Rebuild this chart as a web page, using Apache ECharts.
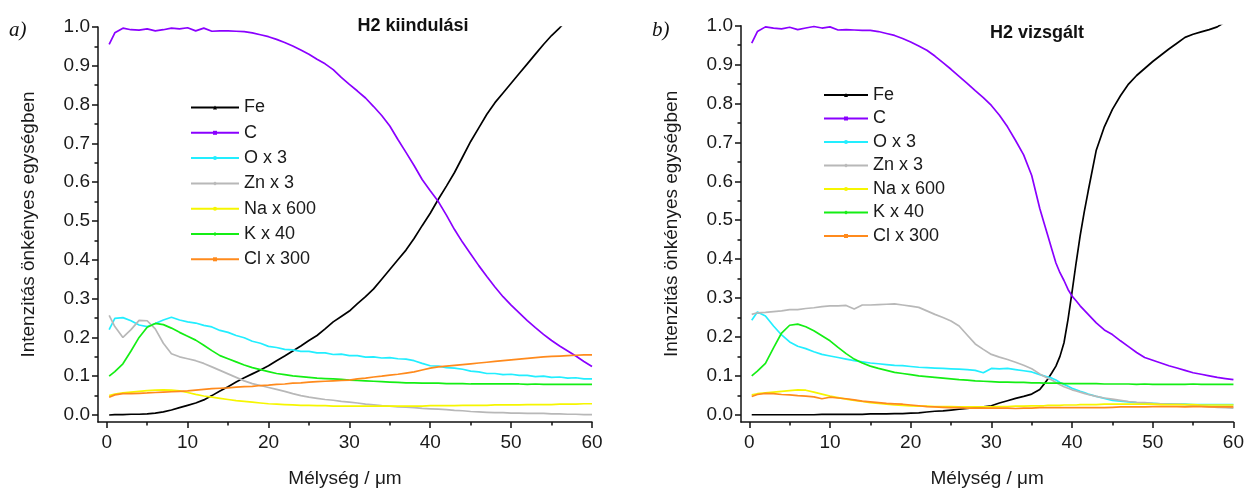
<!DOCTYPE html>
<html>
<head>
<meta charset="utf-8">
<script src="https://cdn.jsdelivr.net/npm/echarts@6/dist/echarts.min.js"></script>
<style>
html,body{margin:0;padding:0;background:#fff;}
#chart{width:1247px;height:493px;}
</style>
</head>
<body>
<div id="chart"></div>
<script>
// ---------- DATA ----------
var seriesNames = ['Fe', 'C', 'O x 3', 'Zn x 3', 'Na x 600', 'K x 40', 'Cl x 300'];
var xMajorTicks = [0, 10, 20, 30, 40, 50, 60];
var xMinorTicks = [5, 15, 25, 35, 45, 55];
var yMajorTicks = [0, 0.1, 0.2, 0.3, 0.4, 0.5, 0.6, 0.7, 0.8, 0.9, 1.0];
var yMinorTicks = [0.05, 0.15, 0.25, 0.35, 0.45, 0.55, 0.65, 0.75, 0.85, 0.95];

// panel a) H2 kiindulási
var depthA = [0.3, 1, 2, 3, 4, 5, 6, 7, 8, 9, 10,
  11, 12, 13, 14, 15, 16, 17, 18, 19, 20,
  21, 22, 23, 24, 25, 26, 27, 28, 29, 30,
  31, 32, 33, 34, 35, 36, 37, 38, 39, 40,
  41, 42, 43, 44, 45, 46, 47, 48, 49, 50,
  51, 52, 53, 54, 55, 56, 57, 58, 59, 60];
var feA = [0, 0.001, 0.001, 0.002, 0.002, 0.003, 0.005, 0.008, 0.013, 0.019, 0.025,
  0.031, 0.039, 0.05, 0.062, 0.073, 0.085, 0.096, 0.106, 0.116, 0.127,
  0.14, 0.152, 0.165, 0.178, 0.192, 0.205, 0.222, 0.24, 0.254, 0.268,
  0.287, 0.305, 0.325, 0.35, 0.375, 0.4, 0.425, 0.455, 0.488, 0.52,
  0.556, 0.59, 0.625, 0.665, 0.705, 0.74, 0.775, 0.805, 0.83, 0.855,
  0.88, 0.905, 0.93, 0.955, 0.978, 0.998, 1.02, null, null, null];
var cA = [0.955, 0.985, 0.997, 0.993, 0.992, 0.995, 0.99, 0.993, 0.997, 0.995, 0.998,
  0.99, 0.997, 0.989, 0.99, 0.99, 0.989, 0.988, 0.985, 0.98, 0.975,
  0.968, 0.96, 0.951, 0.941, 0.93, 0.917, 0.905, 0.89, 0.87, 0.852,
  0.835, 0.817, 0.795, 0.772, 0.745, 0.71, 0.677, 0.643, 0.607, 0.578,
  0.55, 0.515, 0.478, 0.445, 0.415, 0.385, 0.357, 0.33, 0.305, 0.283,
  0.263, 0.243, 0.225, 0.208, 0.192, 0.178, 0.165, 0.152, 0.138, 0.125];
var oA = [0.22, 0.249, 0.251, 0.243, 0.232, 0.228, 0.236, 0.245, 0.252, 0.245, 0.24,
  0.237, 0.231, 0.227, 0.218, 0.213, 0.205, 0.199, 0.19, 0.185, 0.177,
  0.174, 0.169, 0.168, 0.164, 0.164, 0.16, 0.16, 0.156, 0.157, 0.153,
  0.153, 0.149, 0.15, 0.147, 0.148, 0.145, 0.144, 0.14, 0.133, 0.127,
  0.126, 0.122, 0.121, 0.118, 0.113, 0.111, 0.107, 0.107, 0.104, 0.105,
  0.102, 0.102, 0.099, 0.1, 0.097, 0.098, 0.095, 0.096, 0.093, 0.093];
var znA = [0.257, 0.228, 0.2, 0.22, 0.244, 0.243, 0.222, 0.185, 0.158, 0.15, 0.145,
  0.14, 0.133, 0.124, 0.115, 0.106, 0.097, 0.088, 0.081, 0.076, 0.071,
  0.066, 0.061, 0.055, 0.05, 0.046, 0.043, 0.04, 0.038, 0.035, 0.033,
  0.031, 0.028, 0.026, 0.024, 0.023, 0.021, 0.02, 0.019, 0.017, 0.016,
  0.015, 0.014, 0.012, 0.011, 0.009, 0.008, 0.007, 0.006, 0.006, 0.005,
  0.005, 0.004, 0.004, 0.004, 0.003, 0.003, 0.002, 0.002, 0.001, 0.001];
var naA = [0.05, 0.054, 0.057, 0.059, 0.061, 0.063, 0.064, 0.065, 0.064, 0.062, 0.058,
  0.053, 0.049, 0.046, 0.043, 0.04, 0.037, 0.035, 0.033, 0.031, 0.029,
  0.028, 0.027, 0.026, 0.025, 0.025, 0.024, 0.024, 0.023, 0.023, 0.023,
  0.023, 0.023, 0.023, 0.023, 0.023, 0.023, 0.023, 0.023, 0.023, 0.024,
  0.024, 0.024, 0.024, 0.025, 0.025, 0.025, 0.025, 0.026, 0.026, 0.026,
  0.026, 0.027, 0.027, 0.027, 0.027, 0.028, 0.028, 0.028, 0.029, 0.029];
var kA = [0.1, 0.112, 0.132, 0.165, 0.2, 0.226, 0.236, 0.233, 0.224, 0.213, 0.203,
  0.193, 0.18, 0.166, 0.153, 0.145, 0.137, 0.129, 0.122, 0.117, 0.112,
  0.107, 0.104, 0.101, 0.099, 0.097, 0.095, 0.094, 0.093, 0.092, 0.09,
  0.089, 0.088, 0.087, 0.086, 0.085, 0.084, 0.083, 0.083, 0.082, 0.082,
  0.082, 0.081, 0.081, 0.081, 0.08, 0.08, 0.08, 0.08, 0.08, 0.08,
  0.08, 0.079, 0.08, 0.079, 0.079, 0.079, 0.079, 0.079, 0.079, 0.079];
var clA = [0.046, 0.052, 0.055, 0.055, 0.056, 0.057, 0.058, 0.059, 0.06, 0.061, 0.062,
  0.064, 0.066, 0.068, 0.069, 0.07, 0.072, 0.073, 0.074, 0.076, 0.077,
  0.079, 0.08, 0.082, 0.083, 0.085, 0.086, 0.087, 0.088, 0.089, 0.09,
  0.093, 0.095, 0.098, 0.1, 0.103, 0.105, 0.108, 0.111, 0.116, 0.121,
  0.124, 0.126, 0.128, 0.13, 0.132, 0.134, 0.136, 0.138, 0.14, 0.142,
  0.144, 0.146, 0.148, 0.15, 0.151, 0.152, 0.153, 0.154, 0.155, 0.155];

// panel b) H2 vizsgált
var depthB = [0.3, 1, 2, 3, 4, 5, 6, 7, 8, 9, 10,
  11, 12, 13, 14, 15, 16, 17, 18, 19, 20,
  21, 22, 23, 24, 25, 26, 27, 28, 29, 30,
  31, 32, 33, 34, 35, 36,
  36.5, 37, 37.5, 38, 38.5, 39, 39.5, 40, 40.5, 41, 41.5,
  42, 43, 44, 45, 46, 47, 48, 49, 50, 51, 52, 53, 54, 55, 56, 57, 58, 59, 60];
var feB = [0, 0, 0, 0, 0, 0, 0, 0, 0, 0.001, 0.001,
  0.001, 0.001, 0.001, 0.001, 0.002, 0.002, 0.002, 0.003, 0.003, 0.004,
  0.005, 0.007, 0.009, 0.01, 0.012, 0.014, 0.016, 0.018, 0.02, 0.023,
  0.03, 0.036, 0.042, 0.047, 0.053, 0.065,
  0.078, 0.092, 0.108, 0.125, 0.15, 0.185, 0.245, 0.316, 0.39, 0.46, 0.52,
  0.575, 0.68, 0.74, 0.785, 0.82, 0.85, 0.872, 0.89, 0.908, 0.924, 0.94, 0.955, 0.97, 0.978, 0.984, 0.99, 0.997, 1.01, null];
var cB = [0.955, 0.985, 0.997, 0.994, 0.992, 0.996, 0.99, 0.994, 0.998, 0.994, 0.997,
  0.989, 0.99, 0.989, 0.988, 0.988, 0.985, 0.98, 0.975, 0.967, 0.958,
  0.948, 0.937, 0.922, 0.905, 0.888, 0.87, 0.852, 0.833, 0.815, 0.795,
  0.77, 0.74, 0.705, 0.668, 0.615, 0.53,
  0.495, 0.46, 0.425, 0.39, 0.365, 0.345, 0.322, 0.305, 0.293, 0.28, 0.269,
  0.258, 0.236, 0.218, 0.206, 0.19, 0.175, 0.16, 0.147, 0.14, 0.133, 0.126, 0.12, 0.114, 0.108, 0.104, 0.1, 0.096, 0.093, 0.09];
var oB = [0.243, 0.264, 0.254, 0.228, 0.205, 0.187, 0.176, 0.17, 0.162, 0.155, 0.151,
  0.147, 0.143, 0.139, 0.136, 0.133, 0.131, 0.129, 0.127, 0.126, 0.124,
  0.122, 0.121, 0.12, 0.119, 0.118, 0.117, 0.116, 0.114, 0.108, 0.119,
  0.118, 0.119, 0.116, 0.113, 0.11, 0.103,
  0.1, 0.097, 0.094, 0.089, 0.083, 0.078, 0.073, 0.068, 0.064, 0.06, 0.057,
  0.053, 0.047, 0.042, 0.037, 0.035, 0.033, 0.031, 0.03, 0.029, 0.028, 0.028, 0.027, 0.027, 0.026, 0.026, 0.026, 0.026, 0.026, 0.026];
var znB = [0.258, 0.262, 0.263, 0.265, 0.267, 0.27, 0.27, 0.273, 0.275, 0.278, 0.28,
  0.28, 0.281, 0.272, 0.282, 0.282, 0.283, 0.284, 0.285, 0.282, 0.279,
  0.276, 0.267, 0.258, 0.25, 0.241, 0.228, 0.205, 0.182, 0.168, 0.155,
  0.148, 0.142, 0.135, 0.127, 0.118, 0.105,
  0.099, 0.094, 0.089, 0.083, 0.077, 0.072, 0.068, 0.064, 0.061, 0.058, 0.055,
  0.052, 0.047, 0.043, 0.04, 0.037, 0.034, 0.032, 0.031, 0.029, 0.028, 0.027, 0.027, 0.026, 0.024, 0.022, 0.021, 0.019, 0.018, 0.017];
var naB = [0.051, 0.054, 0.056, 0.058, 0.06, 0.062, 0.064, 0.063, 0.058, 0.053, 0.048,
  0.044, 0.04, 0.037, 0.034, 0.031, 0.029, 0.027, 0.025, 0.024, 0.023,
  0.022, 0.022, 0.021, 0.021, 0.021, 0.02, 0.02, 0.02, 0.02, 0.02,
  0.021, 0.021, 0.022, 0.022, 0.023, 0.023,
  0.023, 0.024, 0.024, 0.024, 0.024, 0.025, 0.025, 0.025, 0.025, 0.026, 0.026,
  0.026, 0.026, 0.027, 0.027, 0.027, 0.027, 0.027, 0.027, 0.027, 0.026, 0.026, 0.026, 0.026, 0.026, 0.025, 0.025, 0.025, 0.025, 0.025];
var kB = [0.1, 0.112, 0.132, 0.172, 0.21, 0.23, 0.233, 0.226, 0.216, 0.203, 0.19,
  0.173, 0.157, 0.143, 0.133, 0.125, 0.119, 0.114, 0.109, 0.106, 0.103,
  0.1, 0.098, 0.096, 0.094, 0.092, 0.09, 0.089, 0.087, 0.086, 0.085,
  0.084, 0.084, 0.083, 0.083, 0.082, 0.082,
  0.081, 0.081, 0.081, 0.081, 0.081, 0.08, 0.08, 0.08, 0.08, 0.08, 0.08,
  0.08, 0.08, 0.079, 0.079, 0.079, 0.079, 0.078, 0.079, 0.078, 0.078, 0.078, 0.078, 0.078, 0.079, 0.078, 0.078, 0.078, 0.078, 0.078];
var clB = [0.047, 0.052, 0.055, 0.054, 0.052, 0.051, 0.049, 0.048, 0.046, 0.041, 0.045,
  0.043, 0.041, 0.038, 0.035, 0.033, 0.031, 0.029, 0.028, 0.027, 0.025,
  0.023, 0.021, 0.02, 0.019, 0.018, 0.018, 0.017, 0.017, 0.017, 0.017,
  0.017, 0.017, 0.016, 0.017, 0.017, 0.018,
  0.018, 0.018, 0.018, 0.018, 0.018, 0.018, 0.018, 0.018, 0.018, 0.018, 0.018,
  0.018, 0.018, 0.018, 0.019, 0.02, 0.02, 0.02, 0.02, 0.021, 0.021, 0.021, 0.021, 0.02, 0.021, 0.021, 0.02, 0.02, 0.02, 0.02];

// ---------- STYLE ----------
var colors = ['#000000', '#8a00ff', '#22eeff', '#b8b8b8', '#f6f600', '#14ee14', '#ff8a1c'];
var symbols = ['triangle', 'rect', 'circle', 'diamond', 'circle', 'diamond', 'rect'];
var FONT = '"Liberation Sans", Arial, sans-serif';
var TXT = '#1a1a1a';

function pairs(xs, ys) {
  var out = [];
  for (var i = 0; i < xs.length; i++) out.push([xs[i], ys[i]]);
  return out;
}

function axesFor(gi, xmin, ymin, nameGapY) {
  var axisLineStyle = {color: '#111', width: 1.5};
  var hiddenLine = {color: 'rgba(0,0,0,0)', width: 1};
  var xMain = {
    gridIndex: gi, type: 'value', position: 'bottom', min: xmin, max: 60,
    axisLine: {show: true, onZero: false, lineStyle: axisLineStyle},
    axisTick: {show: true, inside: false, length: 6, customValues: xMajorTicks, lineStyle: axisLineStyle},
    axisLabel: {show: true, customValues: xMajorTicks, fontSize: 19, color: TXT, fontFamily: FONT, margin: 11},
    splitLine: {show: false},
    name: 'Mélység / μm', nameLocation: 'middle', nameGap: 47,
    nameTextStyle: {fontSize: 19, color: TXT, fontFamily: FONT}
  };
  var xMinor = {
    gridIndex: gi, type: 'value', position: 'bottom', min: xmin, max: 60,
    axisLine: {show: true, onZero: false, lineStyle: hiddenLine},
    axisTick: {show: true, inside: false, length: 3.5, customValues: xMinorTicks, lineStyle: axisLineStyle},
    axisLabel: {show: false}, splitLine: {show: false}
  };
  var yMain = {
    gridIndex: gi, type: 'value', position: 'left', min: ymin, max: 1.0,
    axisLine: {show: true, onZero: false, lineStyle: axisLineStyle},
    axisTick: {show: true, inside: false, length: 6, customValues: yMajorTicks, lineStyle: axisLineStyle},
    axisLabel: {show: true, customValues: yMajorTicks, fontSize: 19, color: TXT, fontFamily: FONT, margin: 8,
      formatter: function (v) { return Number(v).toFixed(1); }},
    splitLine: {show: false},
    name: 'Intenzitás önkényes egységben', nameLocation: 'middle', nameGap: nameGapY, nameRotate: 90,
    nameTextStyle: {fontSize: 19, color: TXT, fontFamily: FONT}
  };
  var yMinor = {
    gridIndex: gi, type: 'value', position: 'left', min: ymin, max: 1.0,
    axisLine: {show: true, onZero: false, lineStyle: hiddenLine},
    axisTick: {show: true, inside: false, length: 3.5, customValues: yMinorTicks, lineStyle: axisLineStyle},
    axisLabel: {show: false}, splitLine: {show: false}
  };
  return {x: [xMain, xMinor], y: [yMain, yMinor]};
}

var axA = axesFor(0, -1.08, -0.018, 60);
var axB = axesFor(1, -1.03, -0.0187, 60);

var dataA = [feA, cA, oA, znA, naA, kA, clA];
var dataB = [feB, cB, oB, znB, naB, kB, clB];
var series = [];
[[dataA, depthA, 0], [dataB, depthB, 2]].forEach(function (p) {
  for (var i = 0; i < seriesNames.length; i++) {
    series.push({
      type: 'line', name: seriesNames[i],
      xAxisIndex: p[2], yAxisIndex: p[2],
      data: pairs(p[1], p[0][i]),
      symbol: symbols[i], symbolSize: 4, showSymbol: false,
      connectNulls: false, clip: true,
      lineStyle: {color: colors[i], width: 1.7},
      itemStyle: {color: colors[i]},
      z: 2 + i,
      silent: true
    });
  }
});

var chart = echarts.init(document.getElementById('chart'), null, {renderer: 'canvas'});
chart.setOption({
  animation: false,
  backgroundColor: '#ffffff',
  grid: [
    {left: 98, top: 27, width: 494, height: 398, containLabel: false},
    {left: 741, top: 25.7, width: 493, height: 398.3, containLabel: false}
  ],
  xAxis: axA.x.concat(axB.x),
  yAxis: axA.y.concat(axB.y),
  legend: [
    {orient: 'vertical', left: 190, top: 96.5, padding: 0, data: seriesNames, itemWidth: 48, itemHeight: 5, itemGap: 3.3,
      selectedMode: false, textStyle: {fontSize: 18, color: TXT, fontFamily: FONT, lineHeight: 22}},
    {orient: 'vertical', left: 823, top: 84.5, padding: 0, data: seriesNames, itemWidth: 44, itemHeight: 5, itemGap: 2.5,
      selectedMode: false, textStyle: {fontSize: 18, color: TXT, fontFamily: FONT, lineHeight: 21}}
  ],
  graphic: [
    {type: 'text', x: 413, y: 26, style: {text: 'H2 kiindulási', font: 'bold 18px ' + FONT, fill: '#111', align: 'center', verticalAlign: 'middle'}},
    {type: 'text', x: 1037, y: 33, style: {text: 'H2 vizsgált', font: 'bold 18px ' + FONT, fill: '#111', align: 'center', verticalAlign: 'middle'}},
    {type: 'text', x: 9, y: 30, style: {text: 'a)', font: 'italic 21px "Liberation Serif", "Times New Roman", serif', fill: '#111', align: 'left', verticalAlign: 'middle'}},
    {type: 'text', x: 652, y: 30, style: {text: 'b)', font: 'italic 21px "Liberation Serif", "Times New Roman", serif', fill: '#111', align: 'left', verticalAlign: 'middle'}}
  ],
  series: series
});
</script>
</body>
</html>
